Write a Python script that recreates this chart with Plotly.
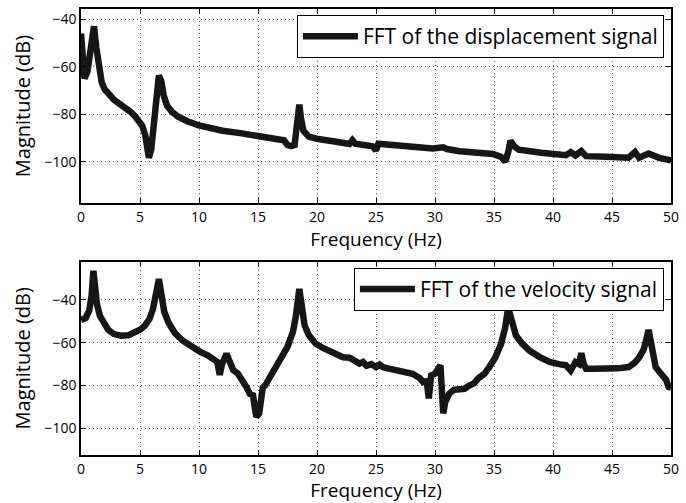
import plotly.graph_objects as go
from plotly.subplots import make_subplots

# ---- data (frequency in Hz, magnitude in dB) ----
disp_freq = [0, 0.12, 0.3, 0.55, 0.8, 1.1, 1.3, 1.5, 1.75, 2.0, 2.3, 2.8, 3.3, 3.7, 4.2, 4.6, 4.9,
             5.2, 5.45, 5.6, 5.75, 5.95, 6.2, 6.45, 6.6, 6.8, 7.0, 7.3, 7.7, 8.2, 9.0, 10, 11, 12,
             13.5, 15, 16.4, 17.2, 17.5, 17.8, 18.1, 18.35, 18.5, 18.65, 18.85, 19.3, 20.1, 21.5,
             22.75, 23.0, 23.25, 24.7, 25.0, 25.2, 26.5, 28, 29.8, 30.7, 31, 32.1, 34.9, 35.6,
             35.96, 36.2, 36.4, 36.7, 37.1, 39, 41.1, 41.5, 41.9, 42.4, 42.8, 44.5, 46.4, 46.95,
             47.3, 48.1, 48.6, 49, 49.9, 50]
disp_mag = [-46, -58, -65, -62, -52, -43, -52, -61, -66.5, -69.5, -71.5, -74, -75.8, -77, -79, -81,
            -82.8, -85, -89, -94, -98.4, -95, -84, -67, -63.8, -66, -72, -76.5, -79, -81, -83,
            -84.7, -86, -87, -88, -89, -90, -91, -93, -93.5, -93, -85, -76, -82, -87, -89.5,
            -90.5, -91.5, -92.6, -91, -92.5, -93.5, -95.3, -92.5, -93.2, -93.8, -94.5, -94,
            -94.7, -95.6, -96.8, -98, -100, -96, -91.2, -93.5, -95, -96.3, -97.3, -96, -97.4,
            -95.6, -97.7, -98, -98.4, -96, -98.4, -96.6, -97.6, -98.4, -99.4, -99.5]

vel_freq = [0, 0.4, 0.7, 0.9, 1.05, 1.2, 1.35, 1.6, 1.9, 2.3, 2.8, 3.4, 4.0, 4.5, 5.0, 5.4, 5.8,
            6.1, 6.4, 6.6, 6.8, 7.05, 7.4, 7.95, 8.6, 9.36, 10.1, 10.77, 11.3, 11.55, 11.76,
            11.95, 12.33, 12.6, 12.9, 13.3, 13.7, 14.0, 14.3, 14.58, 14.72, 14.86, 15.1, 15.4,
            15.6, 16.0, 16.4, 16.8, 17.1, 17.5, 17.96, 18.2, 18.5, 18.75, 18.95, 19.3, 19.9,
            20.5, 21.07, 21.8, 22.2, 22.76, 23.2, 23.6, 23.9, 24.2, 24.6, 25.0, 25.3, 25.6,
            26.0, 26.4, 27.2, 28.1, 28.7, 29.0, 29.3, 29.47, 29.67, 30.0, 30.46, 30.7, 30.85,
            31.2, 31.6, 32.06, 32.5, 32.9, 33.3, 33.7, 34.2, 34.6, 35.1, 35.6, 35.95, 36.2,
            36.5, 36.86, 37.4, 38.0, 38.8, 39.7, 40.5, 41.1, 41.5, 41.9, 42.2, 42.4, 42.6,
            42.8, 43.5, 44.5, 45.5, 46.4, 46.9, 47.3, 47.7, 48.1, 48.4, 48.7, 49.0, 49.3,
            49.6, 49.8, 50]
vel_mag = [-49.5, -48.5, -45, -38, -26.5, -35, -42, -47.5, -51, -54, -56, -56.8, -56.6, -55.6,
           -54, -52.2, -49, -44.3, -36, -30.4, -37, -45.5, -50.5, -55.5, -59, -62, -64.3, -66,
           -67.5, -69, -75, -70, -65.2, -69, -72.8, -74.5, -77.6, -80.5, -83.8, -84.5, -90,
           -94.6, -93, -81, -80, -76, -72.3, -69, -65.5, -62, -55, -48, -35, -45, -52, -56.5,
           -60.5, -62.5, -63.7, -65.5, -66.8, -67, -68.5, -69.8, -69, -70.8, -70, -71.4, -70.2,
           -71.5, -72, -72.6, -73.2, -74.5, -76.5, -78.4, -78, -86, -75.3, -74.5, -70.6, -93,
           -88, -83.8, -82, -81.4, -81.5, -80, -79, -76.5, -74.5, -71.4, -67, -60.6, -53,
           -43.6, -51, -56.7, -60.5, -63.7, -66.5, -69, -70, -70.6, -73, -69.1, -70, -64.9,
           -70, -72.2, -72.2, -72.2, -72, -71.4, -69.5, -67, -63, -54.1, -62, -71.4, -73.5,
           -75.3, -77.5, -80.7, -81]

x_ticks = [0, 5, 10, 15, 20, 25, 30, 35, 40, 45, 50]
y_ticks = [-40, -60, -80, -100]
legend_names = ["FFT of the displacement signal", "FFT of the velocity signal"]

FONT = "Open Sans"
LINE_COLOR = "#161616"

fig = make_subplots(rows=2, cols=1, vertical_spacing=0.13)

fig.add_trace(go.Scatter(x=disp_freq, y=disp_mag, mode="lines", name=legend_names[0],
                         line=dict(color=LINE_COLOR, width=6.5), legend="legend"),
              row=1, col=1)
fig.add_trace(go.Scatter(x=vel_freq, y=vel_mag, mode="lines", name=legend_names[1],
                         line=dict(color=LINE_COLOR, width=6.5), legend="legend2"),
              row=2, col=1)

axis_common = dict(
    showline=True, linecolor="black", linewidth=1.5, mirror="ticks",
    ticks="inside", ticklen=5, tickcolor="black", tickwidth=1,
    showgrid=True, gridcolor="rgba(0,0,0,0.6)", griddash="1px,3px", gridwidth=1,
    zeroline=False, tickfont=dict(family=FONT, size=14, color="black"),
)

fig.update_xaxes(range=[0, 50], tickvals=x_ticks, **axis_common)
fig.update_xaxes(title=dict(text="Frequency (Hz)", font=dict(family=FONT, size=19, color="black"),
                            standoff=2))
fig.update_yaxes(tickvals=y_ticks, **axis_common)
fig.update_yaxes(title=dict(text="Magnitude (dB)", font=dict(family=FONT, size=20, color="black"),
                            standoff=8))
fig.update_yaxes(range=[-117.5, -35.7], row=1, col=1)
fig.update_yaxes(range=[-112.4, -22.2], row=2, col=1)

fig.update_layout(
    width=686, height=503,
    margin=dict(l=81, r=14, t=7, b=48),
    plot_bgcolor="white", paper_bgcolor="white",
    font=dict(family=FONT, color="black"),
    xaxis=dict(domain=[0, 1]), xaxis2=dict(domain=[0, 1]),
    yaxis=dict(domain=[0.5647, 1.0]), yaxis2=dict(domain=[0.0, 0.4337]),
    legend=dict(x=0.988, y=0.9866, xanchor="right", yanchor="top",
                bgcolor="white", bordercolor="black", borderwidth=1,
                font=dict(family=FONT, size=21, color="black"), itemwidth=55),
    legend2=dict(x=0.988, y=0.4196, xanchor="right", yanchor="top",
                 bgcolor="white", bordercolor="black", borderwidth=1,
                 font=dict(family=FONT, size=21, color="black"), itemwidth=55),
    showlegend=True,
)

fig.write_html("out.html")
